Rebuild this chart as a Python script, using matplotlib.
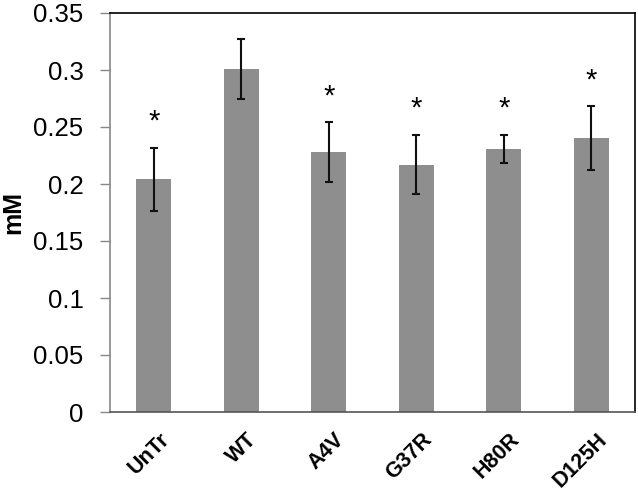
import matplotlib
matplotlib.use("Agg")
import matplotlib.pyplot as plt
import matplotlib.transforms as mtransforms

categories = ["UnTr", "WT", "A4V", "G37R", "H80R", "D125H"]
values = [0.204, 0.301, 0.228, 0.217, 0.2305, 0.240]
errors = [0.028, 0.026, 0.026, 0.026, 0.0125, 0.028]
significant = [True, False, True, True, True, True]
yticks = [0, 0.05, 0.1, 0.15, 0.2, 0.25, 0.3, 0.35]
ytick_labels = ["0", "0.05", "0.1", "0.15", "0.2", "0.25", "0.3", "0.35"]

plt.rcParams['font.family'] = ['Liberation Sans', 'DejaVu Sans']

fig = plt.figure(figsize=(6.38, 4.91), dpi=100)
ax = fig.add_axes([110/638, 1 - 412/491, (635 - 110)/638, (412 - 13)/491])

x = list(range(len(categories)))
ax.bar(x, values, width=0.4, color="#8e8e8e", zorder=2)
ax.errorbar(x, values, yerr=errors, fmt="none", ecolor="#111111",
            elinewidth=1.5, capsize=3, capthick=1.5, zorder=3)
for xi, v, e, s in zip(x, values, errors, significant):
    if s:
        ax.text(xi, v + e + 0.023, "*", ha="center", va="center",
                fontsize=21, color="black")

ax.set_xlim(-0.5, len(categories) - 0.5)
ax.set_ylim(0, 0.35)
ax.set_yticks(yticks)
ax.set_yticklabels(ytick_labels, fontsize=18.5)
ax.set_xticks(x)
ax.set_xticklabels([])
base = mtransforms.blended_transform_factory(ax.transData, ax.transAxes)
offset = mtransforms.ScaledTranslation(0.05, -0.17, fig.dpi_scale_trans)
for xi, name in zip(x, categories):
    ax.text(xi, 0, name, transform=base + offset, rotation=45,
            ha="right", va="top", rotation_mode="anchor",
            fontsize=15.5, fontweight="bold", clip_on=False)
ax.tick_params(axis="y", length=7, width=1, color="#888888", pad=12)
ax.tick_params(axis="x", length=0)
ax.set_ylabel("mM", fontsize=18, fontweight="bold", labelpad=6)

ax.spines["left"].set_color("#888888")
ax.spines["bottom"].set_color("#555555")
ax.spines["top"].set_color("black")
ax.spines["right"].set_color("black")
for sp in ax.spines.values():
    sp.set_linewidth(1.2)

fig.savefig("out.png", dpi=100)
